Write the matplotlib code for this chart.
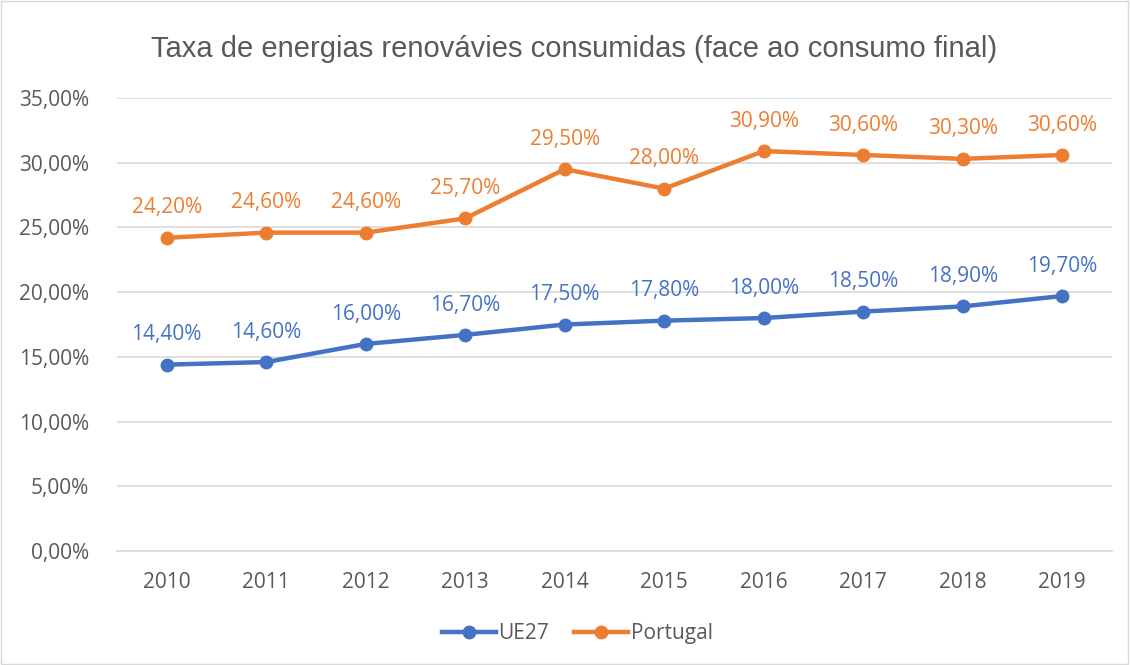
import matplotlib.pyplot as plt
from matplotlib.ticker import FuncFormatter
from matplotlib.patches import Rectangle

years = ['2010', '2011', '2012', '2013', '2014', '2015', '2016', '2017', '2018', '2019']
ue27 = [14.4, 14.6, 16.0, 16.7, 17.5, 17.8, 18.0, 18.5, 18.9, 19.7]
portugal = [24.2, 24.6, 24.6, 25.7, 29.5, 28.0, 30.9, 30.6, 30.3, 30.6]

blue = '#4472C4'
orange = '#ED7D31'
plt.rcParams['font.family'] = ['Open Sans', 'DejaVu Sans']


def pct(v, pos=None):
    return f'{v:.2f}%'.replace('.', ',')


fig = plt.figure(figsize=(11.3, 6.65), dpi=100)
ax = fig.add_axes([0.1035, 0.1714, 0.8805, 0.6812])

x = list(range(len(years)))
ax.plot(x, ue27, color=blue, lw=3.2, marker='o', markersize=9, label='UE27')
ax.plot(x, portugal, color=orange, lw=3.2, marker='o', markersize=9, label='Portugal')

# data labels above each point
for i in x:
    ax.annotate(pct(ue27[i]), (i, ue27[i]), xytext=(0, 21.5), textcoords='offset points',
                ha='center', va='center', color=blue, fontsize=15)
    ax.annotate(pct(portugal[i]), (i, portugal[i]), xytext=(0, 21.5), textcoords='offset points',
                ha='center', va='center', color=orange, fontsize=15)

ax.set_xlim(-0.5, len(years) - 0.5)
ax.set_ylim(0, 35)
ax.set_yticks([0, 5, 10, 15, 20, 25, 30, 35])
ax.yaxis.set_major_formatter(FuncFormatter(pct))
ax.set_xticks(x)
ax.set_xticklabels(years)
ax.tick_params(axis='y', length=0, labelsize=15, colors='#595959', pad=20)
ax.tick_params(axis='x', length=0, labelsize=15, colors='#595959', pad=15)
ax.grid(axis='y', color='#d9d9d9', lw=1.2)
ax.set_axisbelow(True)
for s in ['top', 'right', 'left']:
    ax.spines[s].set_visible(False)
ax.spines['bottom'].set_color('#d9d9d9')
ax.spines['bottom'].set_linewidth(1.2)

fig.text(0.508, 0.926, 'Taxa de energias renovávies consumidas (face ao consumo final)',
         ha='center', va='center', fontsize=21, color='#595959',
         family=['Liberation Sans', 'DejaVu Sans'])

fig.legend(loc='center', bbox_to_anchor=(0.511, 0.047), ncol=2, frameon=False,
           fontsize=15, handlelength=2.6, columnspacing=1.2, handletextpad=0.1,
           labelcolor='#595959')

fig.patches.append(Rectangle((0.001, 0.001), 0.997, 0.997, transform=fig.transFigure,
                             fill=False, edgecolor='#d9d9d9', lw=1))

fig.savefig('out.png', dpi=100)
